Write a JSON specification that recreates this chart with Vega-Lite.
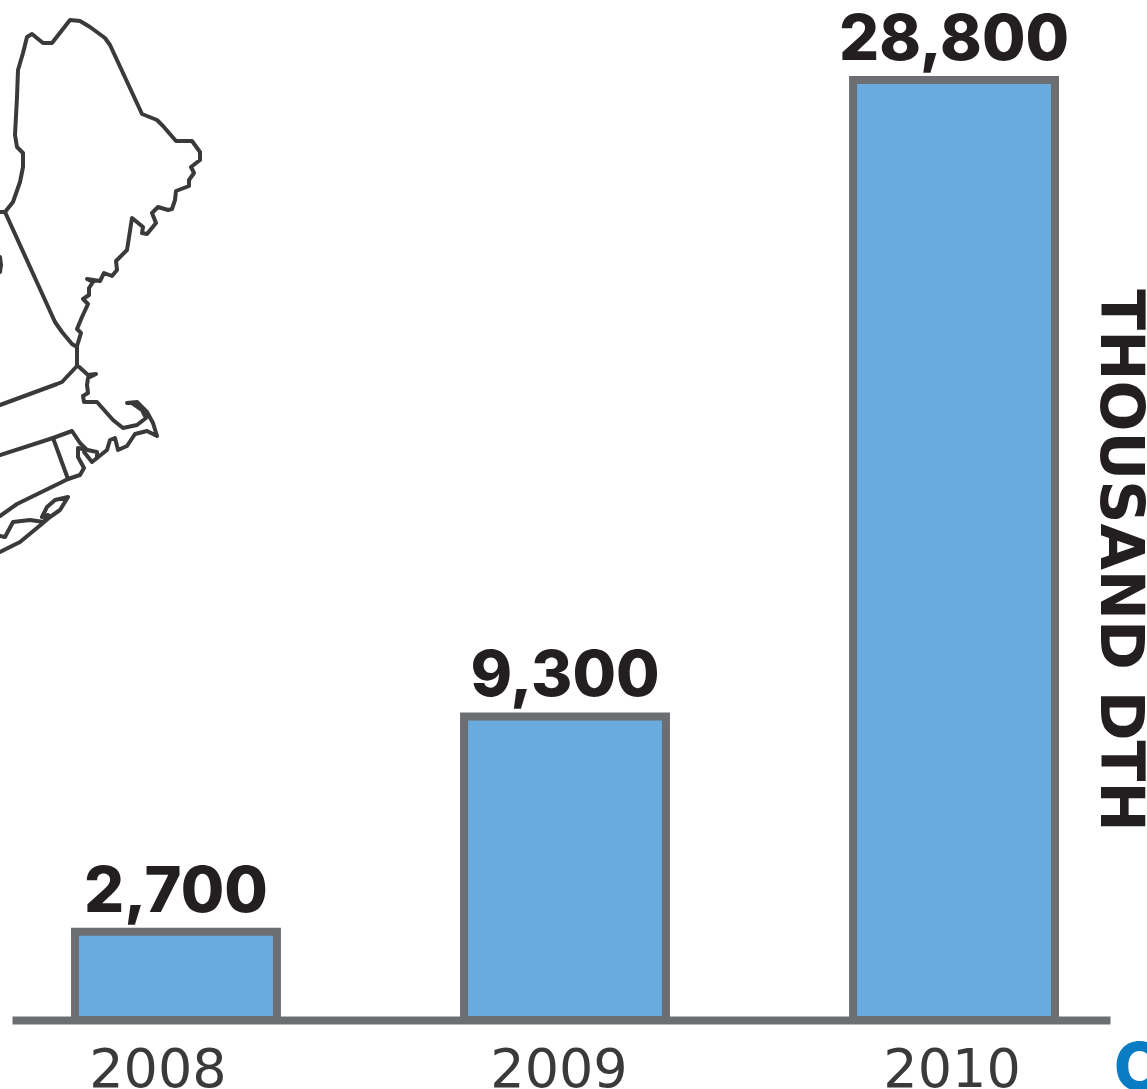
{
"$schema":"https://vega.github.io/schema/vega-lite/v6.json",
"width":1147,"height":1020,"autosize":"none","padding":{"left":0,"top":0,"right":0,"bottom":69},
"background":"white",
"config":{"view":{"stroke":null}},
"datasets":{
"bars":[{"year":"2008","value":2700,"text":"2,700"},{"year":"2009","value":9300,"text":"9,300"},{"year":"2010","value":28800,"text":"28,800"}],
"outline":[
{"s":"maine","o":1,"e":0,"n":212},{"s":"maine","o":2,"e":5,"n":212},{"s":"maine","o":3,"e":13,"n":202},{"s":"maine","o":4,"e":20,"n":182},{"s":"maine","o":5,"e":23,"n":167},{"s":"maine","o":6,"e":23,"n":153},{"s":"maine","o":7,"e":17,"n":147},{"s":"maine","o":8,"e":15,"n":135},{"s":"maine","o":9,"e":17,"n":97},{"s":"maine","o":10,"e":18,"n":70},{"s":"maine","o":11,"e":23,"n":53},{"s":"maine","o":12,"e":27,"n":37},{"s":"maine","o":13,"e":32,"n":34},{"s":"maine","o":14,"e":43,"n":43},{"s":"maine","o":15,"e":52,"n":43},{"s":"maine","o":16,"e":70,"n":20},{"s":"maine","o":17,"e":80,"n":21},{"s":"maine","o":18,"e":90,"n":27},{"s":"maine","o":19,"e":105,"n":38},{"s":"maine","o":20,"e":110,"n":45},{"s":"maine","o":21,"e":142,"n":114},{"s":"maine","o":22,"e":157,"n":120},{"s":"maine","o":23,"e":163,"n":126},{"s":"maine","o":24,"e":176,"n":141},{"s":"maine","o":25,"e":192,"n":141},{"s":"maine","o":26,"e":200,"n":152},{"s":"maine","o":27,"e":200,"n":160},{"s":"maine","o":28,"e":191,"n":167},{"s":"maine","o":29,"e":194,"n":173},{"s":"maine","o":30,"e":189,"n":180},{"s":"maine","o":31,"e":189,"n":186},{"s":"maine","o":32,"e":176,"n":191},{"s":"maine","o":33,"e":175,"n":200},{"s":"maine","o":34,"e":172,"n":209},{"s":"maine","o":35,"e":168,"n":210},{"s":"maine","o":36,"e":158,"n":207},{"s":"maine","o":37,"e":152,"n":213},{"s":"maine","o":38,"e":156,"n":223},{"s":"maine","o":39,"e":147,"n":234},{"s":"maine","o":40,"e":142,"n":233},{"s":"maine","o":41,"e":143,"n":227},{"s":"maine","o":42,"e":132,"n":218},{"s":"maine","o":43,"e":127,"n":250},{"s":"maine","o":44,"e":116,"n":261},{"s":"maine","o":45,"e":117,"n":270},{"s":"maine","o":46,"e":112,"n":276},{"s":"maine","o":47,"e":104,"n":273},{"s":"maine","o":48,"e":100,"n":281},{"s":"maine","o":49,"e":87,"n":279},{"s":"maine","o":50,"e":93,"n":282},{"s":"maine","o":51,"e":89,"n":288},{"s":"maine","o":52,"e":89,"n":295},{"s":"maine","o":53,"e":83,"n":299},{"s":"maine","o":54,"e":88,"n":304},{"s":"maine","o":55,"e":82,"n":317},{"s":"maine","o":56,"e":77,"n":329},{"s":"maine","o":57,"e":81,"n":333},{"s":"maine","o":58,"e":77,"n":346},{"s":"maine","o":59,"e":77,"n":365},{"s":"maine","o":60,"e":88,"n":375},{"s":"maine","o":61,"e":96,"n":374},{"s":"maine","o":62,"e":88,"n":378},{"s":"maine","o":63,"e":87,"n":385},{"s":"maine","o":64,"e":88,"n":393},{"s":"maine","o":65,"e":83,"n":396},{"s":"maine","o":66,"e":84,"n":402},{"s":"maine","o":67,"e":97,"n":402},{"s":"maine","o":68,"e":113,"n":420},{"s":"maine","o":69,"e":123,"n":428},{"s":"maine","o":70,"e":137,"n":425},{"s":"maine","o":71,"e":146,"n":418},{"s":"maine","o":72,"e":142,"n":410},{"s":"maine","o":73,"e":132,"n":403},{"s":"maine","o":74,"e":127,"n":403},{"s":"maine","o":75,"e":137,"n":402},{"s":"maine","o":76,"e":147,"n":412},{"s":"maine","o":77,"e":153,"n":423},{"s":"maine","o":78,"e":157,"n":436},{"s":"maine","o":79,"e":147,"n":431},{"s":"maine","o":80,"e":135,"n":434},{"s":"maine","o":81,"e":127,"n":446},{"s":"maine","o":82,"e":118,"n":450},{"s":"maine","o":83,"e":115,"n":438},{"s":"maine","o":84,"e":110,"n":440},{"s":"maine","o":85,"e":107,"n":450},{"s":"maine","o":86,"e":97,"n":458},{"s":"maine","o":87,"e":97,"n":452},{"s":"maine","o":88,"e":78,"n":448},{"s":"maine","o":89,"e":78,"n":457},{"s":"maine","o":90,"e":84,"n":468},{"s":"maine","o":91,"e":80,"n":475},{"s":"maine","o":92,"e":68,"n":479},{"s":"maine","o":93,"e":60,"n":483},{"s":"maine","o":94,"e":17,"n":504},{"s":"maine","o":95,"e":0,"n":516},
{"s":"nh","o":1,"e":5,"n":212},{"s":"nh","o":2,"e":55,"n":322},{"s":"nh","o":3,"e":62,"n":332},{"s":"nh","o":4,"e":72,"n":344},{"s":"nh","o":5,"e":77,"n":347},
{"s":"vt","o":1,"e":0,"n":257},{"s":"vt","o":2,"e":1,"n":265},{"s":"vt","o":3,"e":0,"n":272},
{"s":"ma","o":1,"e":0,"n":405},{"s":"ma","o":2,"e":57,"n":384},{"s":"ma","o":3,"e":62,"n":382},{"s":"ma","o":4,"e":77,"n":366},
{"s":"mas","o":1,"e":0,"n":455},{"s":"mas","o":2,"e":53,"n":438},{"s":"mas","o":3,"e":72,"n":431},{"s":"mas","o":4,"e":80,"n":443},{"s":"mas","o":5,"e":86,"n":449},
{"s":"ri","o":1,"e":53,"n":438},{"s":"ri","o":2,"e":68,"n":479},
{"s":"bay","o":1,"e":97,"n":458},{"s":"bay","o":2,"e":92,"n":462},{"s":"bay","o":3,"e":84,"n":452},
{"s":"li","o":1,"e":0,"n":552},{"s":"li","o":2,"e":20,"n":542},{"s":"li","o":3,"e":43,"n":523},{"s":"li","o":4,"e":50,"n":517},{"s":"li","o":5,"e":60,"n":510},{"s":"li","o":6,"e":68,"n":497},{"s":"li","o":7,"e":55,"n":500},{"s":"li","o":8,"e":47,"n":507},{"s":"li","o":9,"e":42,"n":517},{"s":"li","o":10,"e":48,"n":515},{"s":"li","o":11,"e":44,"n":522},{"s":"li","o":12,"e":30,"n":520},{"s":"li","o":13,"e":13,"n":522},{"s":"li","o":14,"e":5,"n":537},{"s":"li","o":15,"e":0,"n":536}
],
"corner":[{"e":1114,"n":1090,"t":"C"}]
},
"layer":[
{"data":{"name":"outline"},"mark":{"type":"line","stroke":"#3a3a3c","strokeWidth":4,"strokeJoin":"round","strokeCap":"round","interpolate":"linear"},
"encoding":{"x":{"field":"e","type":"quantitative","scale":{"domain":[0,1147]},"axis":null},"y":{"field":"n","type":"quantitative","scale":{"domain":[1020,0]},"axis":null},"detail":{"field":"s"},"order":{"field":"o","type":"quantitative"}}},
{"data":{"name":"bars"},"mark":{"type":"bar","fill":"#6aabdf","stroke":"#6d6e71","strokeWidth":8},
"encoding":{
"x":{"field":"year","type":"nominal","sort":null,"scale":{"type":"band","range":[12,1110],"paddingInner":0.481,"paddingOuter":0.1517,"align":0.534},
"axis":{"title":null,"orient":"bottom","ticks":false,"labelAngle":0,"domain":true,"domainColor":"#6d6e71","domainWidth":8,"labelFont":"DejaVu Sans","labelFontSize":54,"labelColor":"#3a3a3c","labelPadding":23,"labelBaseline":"top","labelOffset":{"expr":"datum.value=='2008'?-18:datum.value=='2009'?-6:-2"},"grid":false}},
"y":{"field":"value","type":"quantitative","scale":{"domain":[0,31250],"nice":false},
"axis":{"orient":"right","title":"THOUSAND DTH","titleAngle":90,"titleFont":"DejaVu Sans","titleFontWeight":700,"titleFontSize":60,"titleColor":"#231f20","titleX":-29,"titleY":560,"titleAlign":"center","titleBaseline":"middle","labels":false,"ticks":false,"domain":false,"grid":false}}}},
{"data":{"name":"bars"},"mark":{"type":"text","font":"Inter","fontWeight":800,"fontSize":63,"fill":"#231f20","baseline":"bottom","dy":-7},
"encoding":{"x":{"field":"year","type":"nominal","sort":null,"bandPosition":0.5,"scale":{"type":"band","range":[12,1110],"paddingInner":0.481,"paddingOuter":0.1517,"align":0.534},"axis":null},"y":{"field":"value","type":"quantitative","scale":{"domain":[0,31250],"nice":false},"axis":null},"text":{"field":"text"}}},
{"data":{"name":"corner"},"mark":{"type":"text","font":"Inter","fontWeight":800,"fontSize":66,"fill":"#0a7cc4","align":"left","baseline":"alphabetic"},
"encoding":{"x":{"field":"e","type":"quantitative","scale":{"domain":[0,1147]},"axis":null},"y":{"field":"n","type":"quantitative","scale":{"domain":[1020,0],"clamp":false},"axis":null},"text":{"field":"t"}}}
],
"resolve":{"scale":{"x":"independent","y":"independent"}}
}
